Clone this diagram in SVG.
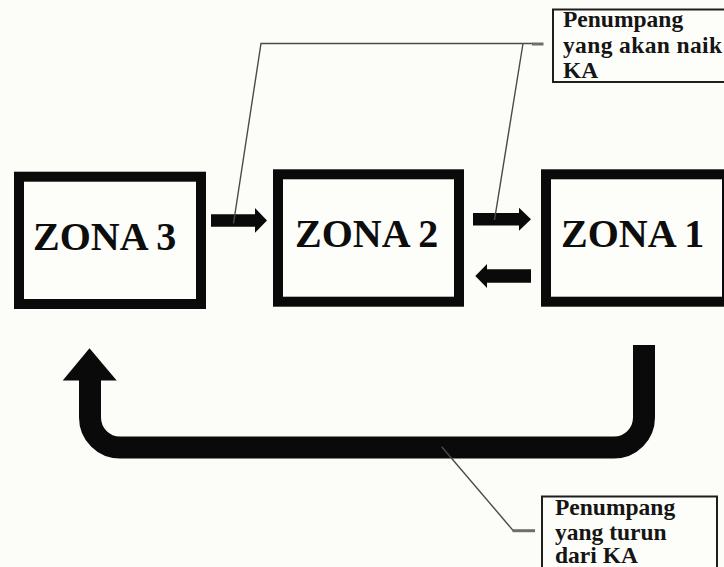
<svg xmlns="http://www.w3.org/2000/svg" width="724" height="567" viewBox="0 0 724 567">
  <style>
    .zone { fill: #fdfdf9; stroke: #0a0a0a; stroke-width: 10; }
    .zlabel { font-family: "Liberation Serif", "Times New Roman", serif; font-weight: bold; font-size: 40px; fill: #0d0d0d; }
    .note { fill: #fdfdf9; stroke: #1e1e1e; stroke-width: 2; }
    .ntext { font-family: "Liberation Serif", "Times New Roman", serif; font-weight: bold; font-size: 23.5px; fill: #151515; }
    .flow { fill: #0a0a0a; }
    .loop { fill: none; stroke: #0a0a0a; stroke-width: 22; }
    .leader { fill: none; stroke: #4a4a4a; stroke-width: 1.4; }
    .stub { fill: none; stroke: #6e6e6e; stroke-width: 3; }
  </style>

  <rect width="724" height="567" fill="#fcfcf8"/>

  <!-- zones -->
  <g id="zona3">
    <rect class="zone" x="19" y="176.7" width="182" height="127.3"/>
    <text class="zlabel" x="33" y="250">ZONA 3</text>
  </g>
  <g id="zona2">
    <rect class="zone" x="278" y="174.3" width="181" height="127.4"/>
    <text class="zlabel" x="295" y="247">ZONA 2</text>
  </g>
  <g id="zona1">
    <rect class="zone" x="546" y="174.3" width="181" height="127.4"/>
    <text class="zlabel" x="561" y="247">ZONA 1</text>
  </g>

  <!-- callout boxes -->
  <g id="note-naik">
    <rect class="note" x="553" y="9.5" width="190" height="72.5"/>
    <text class="ntext" x="563" y="27">Penumpang</text>
    <text class="ntext" x="563" y="53" textLength="159" lengthAdjust="spacing">yang akan naik</text>
    <text class="ntext" x="563" y="78">KA</text>
  </g>
  <g id="note-turun">
    <rect class="note" x="542" y="496.5" width="175" height="90"/>
    <text class="ntext" x="555" y="515">Penumpang</text>
    <text class="ntext" x="555" y="539.5">yang turun</text>
    <text class="ntext" x="555" y="563">dari KA</text>
  </g>

  <!-- connectors -->
  <g id="connectors">
    <!-- ZONA 3 to ZONA 2 -->
    <polygon class="flow" points="211,214.3 255,214.3 255,208 267,220.5 255,232.7 255,226.7 211,226.7"/>
    <!-- ZONA 2 to ZONA 1 -->
    <polygon class="flow" points="473,213 519,213 519,207.7 531,219.2 519,230.7 519,225.4 473,225.4"/>
    <!-- ZONA 1 back to ZONA 2 -->
    <polygon class="flow" points="531,269.3 487,269.3 487,264 475.3,276 487,288 487,282.7 531,282.7"/>
    <!-- return loop from ZONA 1 to ZONA 3 -->
    <path class="loop" d="M644,345 V417.5 A30,30 0 0 1 614,447.5 H120 A30,30 0 0 1 90,417.5 V379"/>
    <polygon class="flow" points="62.7,380.5 116.7,380.5 89.5,348.3"/>

    <!-- leader lines for the notes -->
    <path class="leader" d="M533,43.5 H261 L233.5,223.5 M523,43.5 L494.5,220"/>
    <path class="stub" d="M532,44 H543.5"/>
    <path class="leader" d="M441.7,446.7 L513.3,530.7"/>
    <path class="stub" d="M512.5,530.7 H535"/>
  </g>
</svg>
